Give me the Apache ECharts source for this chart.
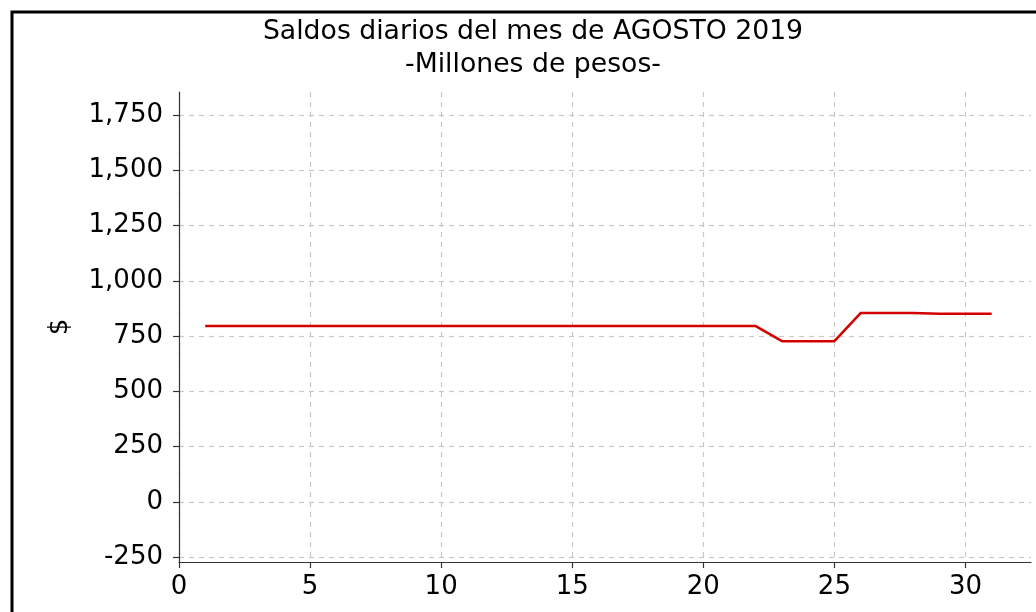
<!DOCTYPE html>
<html>
<head>
<meta charset="utf-8">
<script src="https://cdn.jsdelivr.net/npm/echarts@6/dist/echarts.min.js"></script>
<style>html,body{margin:0;padding:0;background:#fff}#c{width:1036px;height:612px}</style>
</head>
<body>
<div id="c"></div>
<script>
const days = [1,2,3,4,5,6,7,8,9,10,11,12,13,14,15,16,17,18,19,20,21,22,23,24,25,26,27,28,29,30,31];
const saldos = [795,795,795,795,795,795,795,795,795,795,795,795,795,795,795,795,795,795,795,795,795,795,727,727,727,854,854,854,851,851,851];
const xTicks = [0,5,10,15,20,25,30];
const yTicks = [-250,0,250,500,750,1000,1250,1500,1750];
const titleText = 'Saldos diarios del mes de AGOSTO 2019\n-Millones de pesos-';
const yName = '$';

const chart = echarts.init(document.getElementById('c'), null, {renderer: 'canvas'});
const font = 'DejaVu Sans';
chart.setOption({
  animation: false,
  backgroundColor: '#fff',
  title: {
    text: titleText,
    left: 528, top: 11, textAlign: 'center',
    textStyle: {fontFamily: font, fontSize: 26.7, fontWeight: 'normal', color: '#000', lineHeight: 33}
  },
  graphic: [{
    type: 'rect', silent: true, z: 100,
    shape: {x: 12, y: 12, width: 1100, height: 700},
    style: {fill: 'none', stroke: '#000', lineWidth: 3}
  }],
  grid: {left: 179, top: 92, right: 5, bottom: 50, containLabel: false},
  xAxis: {
    type: 'value', min: 0, max: 32.5,
    axisLine: {show: true, onZero: false, lineStyle: {color: '#333', width: 1.2}},
    axisTick: {show: true, length: 6, customValues: xTicks, lineStyle: {color: '#333', width: 1.2}},
    axisLabel: {customValues: xTicks, fontFamily: font, fontSize: 26, color: '#000', margin: 12},
    splitLine: {show: true, lineStyle: {color: '#c8c8c8', type: [5, 5], width: 1.2}}
  },
  yAxis: {
    type: 'value', min: -272, max: 1854,
    name: yName, nameLocation: 'middle', nameGap: 106,
    nameTextStyle: {fontFamily: font, fontSize: 26, color: '#000'},
    axisLine: {show: true, onZero: false, lineStyle: {color: '#333', width: 1.2}},
    axisTick: {show: true, length: 6, customValues: yTicks, lineStyle: {color: '#333', width: 1.2}},
    axisLabel: {customValues: yTicks, fontFamily: font, fontSize: 26, color: '#000', margin: 16,
      formatter: v => v.toLocaleString('en-US')},
    splitLine: {show: true, lineStyle: {color: '#c8c8c8', type: [5, 5], width: 1.2}}
  },
  series: [{
    type: 'line',
    data: days.map((d, i) => [d, saldos[i]]),
    showSymbol: false,
    lineStyle: {color: '#d40000', width: 2.5},
    z: 5
  }]
});
</script>
</body>
</html>
